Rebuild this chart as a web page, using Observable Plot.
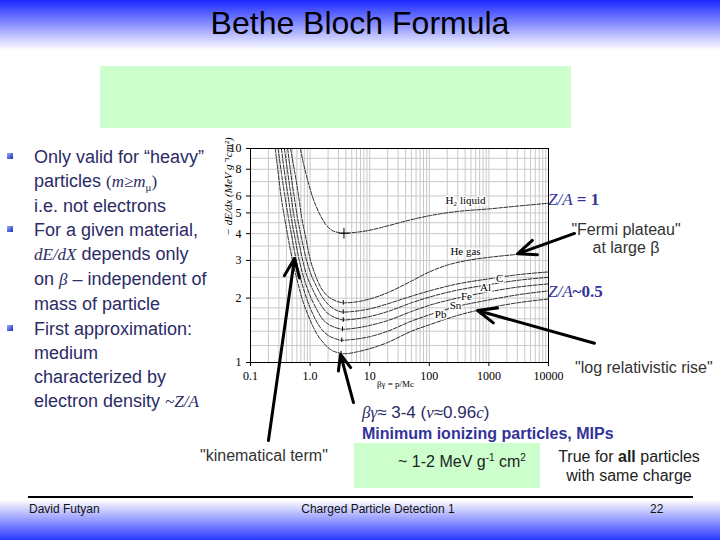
<!DOCTYPE html>
<html><head><meta charset="utf-8">
<script src="https://cdn.jsdelivr.net/npm/d3@7"></script>
<script src="https://cdn.jsdelivr.net/npm/@observablehq/plot@0.6"></script>
<style>
body{margin:0;background:#fff;}
#slide{position:relative;width:720px;height:540px;overflow:hidden;font-family:"Liberation Sans",Arial,sans-serif;}
.abs{position:absolute;white-space:nowrap;}
.bul{color:#2b2b66;font-size:18px;line-height:24px;left:34px;}
.sq{position:absolute;left:-27px;width:6px;height:6px;background:linear-gradient(135deg,#9db0ff,#1a2cc0);}
.m{font-family:"Liberation Serif","Times New Roman",serif;font-style:italic;font-size:17px;}
.sub{font-size:11px;position:relative;top:4px;line-height:0;}
.sup{font-size:10px;position:relative;top:-6px;line-height:0;}
.note{color:#333;font-size:16px;}
.za{font-family:"Liberation Serif","Times New Roman",serif;color:#333399;font-size:17px;}
.foot{font-family:"Liberation Sans Narrow","Liberation Sans",Arial,sans-serif;font-size:12px;color:#111;top:502px;}
#chart{left:0;top:0;z-index:2;}
</style></head><body>
<div id="slide">
  <div class="abs" style="left:0;top:0;width:720px;height:50px;background:linear-gradient(#1a27ff,#ffffff)"></div>
  <div class="abs" style="left:0;top:5px;width:720px;text-align:center;font-size:32px;color:#000;">Bethe Bloch Formula</div>
  <div class="abs" style="left:100px;top:66px;width:471px;height:62px;background:#ccffcc"></div>

  <div class="abs bul" style="top:145px;"><div class="sq" style="top:8px"></div>Only valid for “heavy”<br>particles <span class="m" style="font-style:normal">(<i>m</i>≥<i>m</i><span class="sub">μ</span>)</span><br>i.e. not electrons</div>
  <div class="abs bul" style="top:218px;"><div class="sq" style="top:8px"></div>For a given material,<br><span class="m">dE/dX</span> depends only<br>on <span class="m">β</span> – independent of<br>mass of particle</div>
  <div class="abs bul" style="top:317px;"><div class="sq" style="top:8px"></div>First approximation:<br>medium<br>characterized by<br>electron density <span class="m">~Z/A</span></div>

  <div class="abs za" style="left:548px;top:190px;"><i>Z/A</i> <b>= 1</b></div>
  <div class="abs note" style="left:566px;top:221px;width:120px;text-align:center;line-height:18px;">"Fermi plateau"<br>at large β</div>
  <div class="abs za" style="left:548px;top:282px;"><i>Z/A</i><b>~0.5</b></div>
  <div class="abs note" style="left:575px;top:359px;">"log relativistic rise"</div>

  <div class="abs" style="left:362px;top:403px;font-size:17px;color:#2b2b66;"><span class="m">βγ</span>≈ 3-4 (<span class="m">v</span>≈0.96<span class="m">c</span>)</div>
  <div class="abs" style="left:362px;top:425px;font-size:16px;font-weight:bold;color:#333399;">Minimum ionizing particles, MIPs</div>
  <div class="abs note" style="left:200px;top:447px;">"kinematical term"</div>
  <div class="abs" style="left:354px;top:443px;width:186px;height:45px;background:#ccffcc"></div>
  <div class="abs note" style="left:354px;top:453px;width:186px;text-align:center;color:#222;padding-left:30px;box-sizing:border-box;">~ 1-2 MeV g<span class="sup">-1</span> cm<span class="sup">2</span></div>
  <div class="abs note" style="left:550px;top:447px;width:158px;text-align:center;line-height:19px;color:#222;">True for <b>all</b> particles<br>with same charge</div>

  <div class="abs" style="left:28px;top:496px;width:665px;height:2px;background:#000"></div>
  <div class="abs" style="left:0;top:500px;width:720px;height:40px;background:linear-gradient(#ffffff,#2a38ff)"></div>
  <div class="abs foot" style="left:29px;">David Futyan</div>
  <div class="abs foot" style="left:278px;width:200px;text-align:center;">Charged Particle Detection 1</div>
  <div class="abs foot" style="left:650px;">22</div>

  <div id="chart" class="abs"></div>
</div>
<script>
// Axis ticks and labels
const xTicks = [0.1, 1, 10, 100, 1000, 10000];
const xTickLabels = ["0.1", "1.0", "10", "100", "1000", "10000"];
const yTicks = [1, 2, 3, 4, 5, 6, 8, 10];
const xGrid = [0.2,0.3,0.4,0.5,0.6,0.7,0.8,0.9,1,2,3,4,5,6,7,8,9,10,20,30,40,50,60,70,80,90,100,200,300,400,500,600,700,800,900,1000,2000,3000,4000,5000,6000,7000,8000,9000];
const yGrid = [1.2,1.4,1.6,1.8,2,2.5,3,3.5,4,4.5,5,6,7,8,9];
const xTitle = "βγ = p/Mc";
const yTitle = "− dE/dx (MeV g⁻¹cm²)";

// Mean energy loss curves: [βγ, -dE/dx (MeV g^-1 cm^2)]
const H2 = [[0.69,10],[0.76,8.7],[0.84,7.75],[0.95,6.8],[1.08,6.03],[1.25,5.4],[1.49,4.86],[1.85,4.4],[2.34,4.14],[3.0,4.05],[3.7,4.02],[6,4.06],[10,4.15],[20,4.35],[50,4.65],[100,4.85],[300,5.08],[1000,5.22],[3000,5.38],[10000,5.55]];
const He = [[0.47,10],[0.55,7.8],[0.63,6.2],[0.72,4.8],[0.85,3.8],[1.0,3.05],[1.2,2.6],[1.5,2.25],[1.9,2.06],[2.5,1.96],[3.7,1.9],[6,1.92],[10,1.98],[20,2.12],[50,2.4],[100,2.65],[200,2.85],[500,3.02],[1000,3.1],[3000,3.2]];
const C = [[0.42,10],[0.47,7.8],[0.53,6.2],[0.61,4.8],[0.72,3.8],[0.86,3.05],[1.0,2.65],[1.25,2.3],[1.55,2.05],[2.0,1.87],[2.6,1.77],[3.6,1.72],[5,1.73],[10,1.78],[20,1.88],[50,2.04],[100,2.16],[300,2.33],[1000,2.46],[3000,2.57],[10000,2.65]];
const Al = [[0.37,10],[0.42,7.8],[0.47,6.2],[0.54,4.8],[0.63,3.8],[0.74,3.05],[0.88,2.55],[1.1,2.2],[1.4,1.93],[1.8,1.74],[2.3,1.65],[3.0,1.6],[3.6,1.58],[5,1.59],[10,1.64],[20,1.73],[50,1.9],[100,2.02],[300,2.18],[1000,2.31],[3000,2.42],[10000,2.5]];
const Fe = [[0.33,10],[0.37,7.8],[0.42,6.2],[0.48,4.8],[0.56,3.8],[0.65,3.05],[0.78,2.5],[0.98,2.08],[1.25,1.8],[1.6,1.6],[2.1,1.5],[2.8,1.45],[3.5,1.43],[5,1.44],[10,1.49],[20,1.57],[50,1.73],[100,1.85],[300,2.0],[1000,2.14],[3000,2.25],[10000,2.33]];
const Sn = [[0.29,10],[0.33,7.7],[0.37,6.2],[0.43,4.8],[0.5,3.8],[0.58,3.05],[0.7,2.45],[0.88,1.98],[1.15,1.65],[1.5,1.45],[2.0,1.34],[2.7,1.29],[3.4,1.27],[5,1.28],[10,1.32],[20,1.4],[50,1.56],[100,1.67],[300,1.83],[1000,1.96],[3000,2.07],[10000,2.16]];
const Pb = [[0.26,10],[0.29,7.8],[0.32,6.2],[0.37,4.8],[0.43,3.8],[0.5,3.05],[0.6,2.45],[0.75,1.95],[1.0,1.58],[1.3,1.36],[1.7,1.23],[2.2,1.15],[3.0,1.11],[4.0,1.1],[6,1.12],[10,1.16],[20,1.24],[50,1.4],[100,1.5],[300,1.66],[1000,1.8],[3000,1.9],[10000,1.98]];

// Curve labels [text, βγ, dE/dx]
const curveLabels = [["H₂ liquid",405,5.71],["He gas",405,3.3],["C",1510,2.47],["Al",877,2.25],["Fe",421,2.03],["Sn",275,1.85],["Pb",155,1.68]];
// Minima: H2 marked with a cross, others with short ticks [βγ, dE/dx]
const minH2 = [[3.7,4.02]];
const minima = [[3.6,1.9],[3.6,1.72],[3.6,1.58],[3.5,1.43],[3.4,1.27],[3.3,1.1]];
// Annotation arrows (data units): [βγ tail, value tail, βγ tip, value tip]
const arrows = [[0.20,0.432,0.547,3.06],[5.35,0.65,3.24,1.09],[27300,4.01,3020,3.22],[58900,1.23,646,1.75]];

const series = {H2, He, C, Al, Fe, Sn, Pb};
const rows = Object.entries(series).flatMap(([m, pts]) => pts.map(([bg, v]) => ({m, bg, v})));

const chart = Plot.plot({
  width: 720, height: 540,
  marginLeft: 250, marginRight: 172, marginTop: 148, marginBottom: 178,
  style: {background: "transparent", fontFamily: "'Liberation Serif','Times New Roman',serif", fontSize: "12px", overflow: "visible"},
  x: {type: "log", domain: [0.1, 10000], ticks: xTicks, tickFormat: d => xTickLabels[xTicks.indexOf(d)], tickSize: 4, label: null},
  y: {type: "log", domain: [1, 10], ticks: yTicks, tickFormat: d => String(d), tickSize: 4, label: null},
  marks: [
    Plot.ruleX(xGrid, {stroke: "#c8c8c8", strokeWidth: 1}),
    Plot.ruleY(yGrid, {stroke: "#c8c8c8", strokeWidth: 1}),
    Plot.line(rows, {x: "bg", y: "v", z: "m", stroke: "#111", strokeWidth: 0.9, strokeDasharray: "4,1.5", curve: "monotone-x", clip: true}),
    Plot.dot(minH2, {x: d => d[0], y: d => d[1], symbol: "plus", r: 3.5, stroke: "#000", strokeWidth: 1}),
    Plot.ruleX(minima, {x: d => d[0], y1: d => d[1] * 0.975, y2: d => d[1] * 1.025, stroke: "#000", strokeWidth: 1}),
    Plot.text(curveLabels, {x: d => d[1], y: d => d[2], text: d => d[0], fill: "#000", stroke: "white", strokeWidth: 3, fontSize: 11}),
    Plot.frame({stroke: "#000"}),
    Plot.text([xTitle], {text: d => d, frameAnchor: "bottom", dy: 24, dx: -4, fontSize: 9}),
    Plot.text([yTitle], {text: d => d, frameAnchor: "left", rotate: -90, dx: -22, dy: -20, fontSize: 11, fontStyle: "italic"}),
    Plot.arrow(arrows, {x1: d => d[0], y1: d => d[1], x2: d => d[2], y2: d => d[3], stroke: "#000", strokeWidth: 3, headLength: 10, headAngle: 45})
  ]
});
document.getElementById("chart").appendChild(chart);
</script>
</body></html>
